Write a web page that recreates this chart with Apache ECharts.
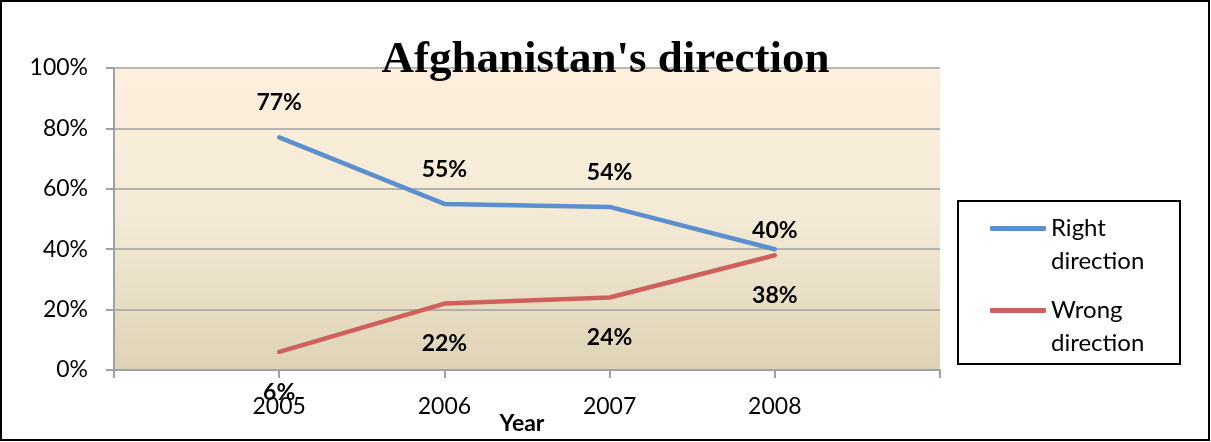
<!DOCTYPE html>
<html>
<head>
<meta charset="utf-8">
<script src="https://cdn.jsdelivr.net/npm/echarts@6/dist/echarts.min.js"></script>
<style>
  html, body { margin: 0; padding: 0; background: #fff; }
  #chart { width: 1211px; height: 442px; }
</style>
</head>
<body>
<div id="chart"></div>
<script>
// Survey years and the share of answers for each direction (percent)
const years = [2005, 2006, 2007, 2008];
const rightDirection = [77, 55, 54, 40];
const wrongDirection = [6, 22, 24, 38];
const yTicks = [0, 20, 40, 60, 80, 100];

const chart = echarts.init(document.getElementById('chart'));

const labelFont = { fontFamily: 'Lato', fontWeight: 'bold', fontSize: 23, color: '#000' };

function points(values, position, distance, lastDistance) {
  return values.map((v, i) => ({
    value: [years[i], v],
    label: {
      position: position,
      distance: (i === values.length - 1 && lastDistance != null) ? lastDistance : distance
    }
  }));
}

// One legend box per series so each key line sits beside the first line of its two-line name
function legendFor(name, top) {
  return {
    data: [name],
    left: 990,
    top: top,
    padding: 0,
    orient: 'vertical',
    icon: 'roundRect',
    itemWidth: 56,
    itemHeight: 5,
    itemGap: 0,
    selectedMode: false,
    formatter: n => '\n' + n.replace(' ', '\n'),
    textStyle: { fontFamily: 'Lato', fontSize: 24, color: '#000', lineHeight: 33 },
    textGap: 3
  };
}

chart.setOption({
  animation: false,
  title: {
    text: "Afghanistan's direction",
    left: 'center',
    top: 33,
    textStyle: { fontFamily: 'Liberation Serif', fontWeight: 'bold', fontSize: 45, color: '#000' }
  },
  grid: {
    left: 114, right: 271, top: 68, bottom: 72,
    outerBoundsMode: 'none',
    containLabel: false,
    show: true,
    borderWidth: 0,
    backgroundColor: new echarts.graphic.LinearGradient(0, 0, 0, 1, [
      { offset: 0, color: '#FDF0DC' },
      { offset: 0.5, color: '#F3EAD6' },
      { offset: 1, color: '#DED3B5' }
    ])
  },
  legend: [
    legendFor('Right direction', 179),
    legendFor('Wrong direction', 261)
  ],
  xAxis: {
    type: 'value',
    min: years[0] - 1,
    max: years[years.length - 1] + 1,
    interval: 1,
    name: 'Year',
    nameLocation: 'middle',
    nameGap: 42,
    nameMoveOverlap: false,
    nameTextStyle: {
      fontFamily: 'Lato', fontWeight: 'bold', fontSize: 23, color: '#000',
      padding: [0, 10, 0, 0]
    },
    axisLine: { lineStyle: { color: '#A0A0A0', width: 2 } },
    axisTick: { length: 8, lineStyle: { color: '#A0A0A0', width: 2 } },
    splitLine: { show: false },
    axisLabel: {
      fontFamily: 'Lato', fontSize: 23, color: '#000', margin: 25,
      formatter: v => (years.indexOf(v) >= 0 ? String(v) : '')
    }
  },
  yAxis: {
    type: 'value',
    min: yTicks[0],
    max: yTicks[yTicks.length - 1],
    interval: 20,
    axisLine: { show: true, lineStyle: { color: '#A0A0A0', width: 2 } },
    axisTick: { show: true, length: 8, lineStyle: { color: '#A0A0A0', width: 2 } },
    splitLine: { lineStyle: { color: '#A0A0A0', width: 1.5 } },
    axisLabel: { fontFamily: 'Lato', fontSize: 23, color: '#000', margin: 26, formatter: '{value}%' }
  },
  series: [
    {
      name: 'Right direction',
      type: 'line',
      data: points(rightDirection, 'top', 23, 7),
      symbol: 'circle',
      symbolSize: 0,
      color: '#5B8FCD',
      lineStyle: { color: '#5B8FCD', width: 4.5, cap: 'round', join: 'round' },
      label: Object.assign({ show: true, formatter: p => p.value[1] + '%' }, labelFont),
      z: 3
    },
    {
      name: 'Wrong direction',
      type: 'line',
      data: points(wrongDirection, 'bottom', 29),
      symbol: 'circle',
      symbolSize: 0,
      color: '#D0605B',
      lineStyle: { color: '#D0605B', width: 4.5, cap: 'round', join: 'round' },
      label: Object.assign({ show: true, formatter: p => p.value[1] + '%' }, labelFont),
      z: 3
    }
  ],
  graphic: [
    {
      type: 'rect',
      shape: { x: 1, y: 1, width: 1208, height: 439 },
      style: { fill: null, stroke: '#000', lineWidth: 2 },
      silent: true
    },
    {
      type: 'rect',
      shape: { x: 958, y: 201, width: 222, height: 163 },
      style: { fill: '#fff', stroke: '#000', lineWidth: 2 },
      silent: true,
      z: -1
    }
  ]
});
</script>
</body>
</html>
